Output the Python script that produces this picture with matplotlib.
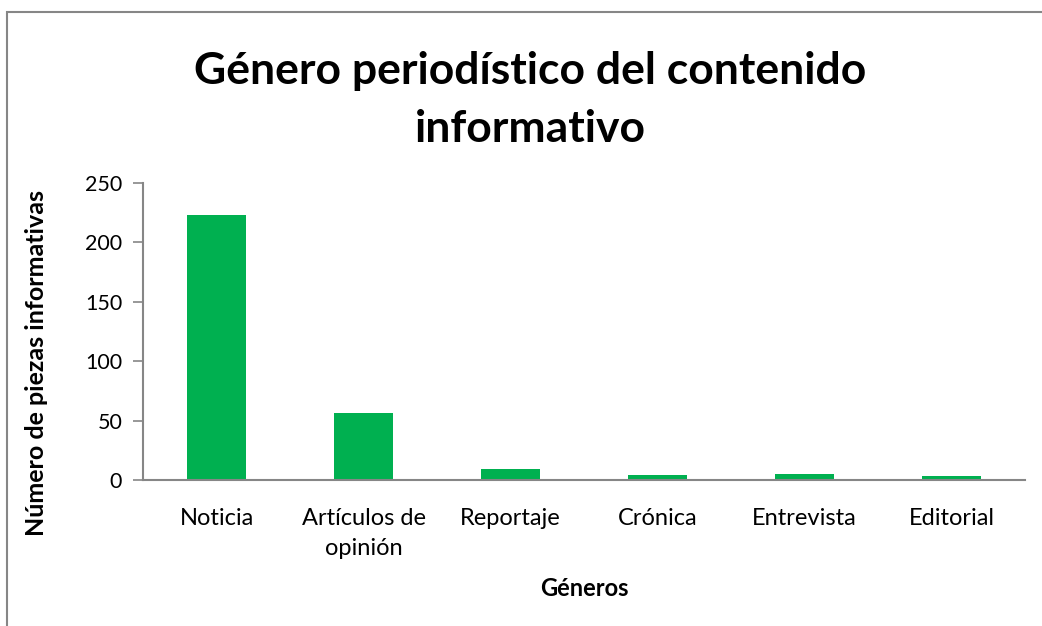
import matplotlib.pyplot as plt
from matplotlib.patches import Rectangle

# chart data
generos = ["Noticia", "Artículos de\nopinión", "Reportaje", "Crónica", "Entrevista", "Editorial"]
piezas = [223, 56, 9, 4, 5, 3]

plt.rcParams['font.family'] = ['Lato', 'DejaVu Sans']

fig = plt.figure(figsize=(10.42, 6.26), dpi=100)
ax = fig.add_axes([143 / 1042, 1 - 480 / 626, 882 / 1042, 297 / 626])

# outer chart border (cut by the image on right and bottom)
fig.patches.append(Rectangle((7 / 1042, -0.2), 1.2, 1.2 - 12 / 626, fill=False,
                             edgecolor="#868686", linewidth=1.5, transform=fig.transFigure))

x = range(len(generos))
ax.bar(x, piezas, width=0.4, color="#00B050", zorder=2)

ax.set_xlim(-0.5, len(generos) - 0.5)
ax.set_ylim(0, 250)
ax.set_yticks([0, 50, 100, 150, 200, 250])
ax.set_xticks(list(x))
ax.set_xticklabels(generos, fontsize=17, linespacing=1.55)
ax.tick_params(axis='y', labelsize=15.5, length=7, color="#868686", width=1.2, pad=8)
ax.tick_params(axis='x', length=0, pad=20)

for s in ["top", "right"]:
    ax.spines[s].set_visible(False)
for s in ["left", "bottom"]:
    ax.spines[s].set_color("#868686")
    ax.spines[s].set_linewidth(1.5)

ax.set_xlabel("Géneros", fontsize=17, fontweight="bold")
ax.xaxis.set_label_coords(0.5, (480 - 589) / 297)
ax.set_ylabel("Número de piezas informativas", fontsize=18, fontweight="bold")
ax.yaxis.set_label_coords((37 - 143) / 882, (480 - 363) / 297)
ax.yaxis.label.set_va("center")
ax.xaxis.label.set_va("center")

fig.text(530 / 1042, 1 - 100 / 626, "Género periodístico del contenido\ninformativo",
         ha="center", va="center", fontsize=32, fontweight="bold", linespacing=1.55)

fig.savefig("out.png", dpi=100)
